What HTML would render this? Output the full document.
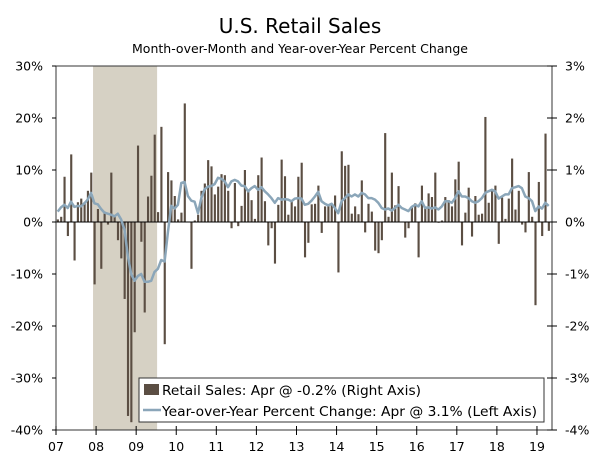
<!DOCTYPE html>
<html><head><meta charset="utf-8"><style>
body{margin:0;background:#fff;}
svg{display:block;font-family:"DejaVu Sans","Liberation Sans",sans-serif;}
</style></head><body>
<svg id="chart" width="600" height="458" viewBox="0 0 600 458" xmlns="http://www.w3.org/2000/svg">
<text x="300" y="33" text-anchor="middle" font-size="20" fill="#000">U.S. Retail Sales</text>
<text x="300" y="53" text-anchor="middle" font-size="12.5" fill="#000">Month-over-Month and Year-over-Year Percent Change</text>
<g id="plot"></g>
</svg>
<script>
const mom = [0.05,0.1,0.87,-0.27,1.3,-0.74,0.38,0.45,0.38,0.6,0.95,-1.2,
0.25,-0.9,0.2,-0.05,0.95,0.1,-0.35,-0.7,-1.48,-3.73,-3.85,-2.12,
1.47,-0.38,-1.74,0.49,0.89,1.68,0.19,1.83,-2.35,0.96,0.8,0.5,
0.05,0.18,2.28,0.01,-0.9,0.03,0.14,0.6,0.74,1.19,1.07,0.53,
0.68,0.92,0.9,0.6,-0.12,0.75,-0.08,0.31,1.0,0.6,0.42,0.06,
0.9,1.24,0.4,-0.45,-0.12,-0.8,0.33,1.2,0.88,0.14,0.4,0.3,
0.87,1.14,-0.68,-0.4,0.34,0.35,0.7,-0.21,0.3,0.33,0.35,0.51,
-0.97,1.36,1.08,1.1,0.16,0.3,0.15,0.8,-0.2,0.35,0.2,-0.55,
-0.6,-0.35,1.71,0.1,0.95,0.32,0.69,0.01,-0.3,-0.12,0.28,0.36,
-0.68,0.7,0.3,0.55,0.48,0.95,0.0,0.03,0.48,0.42,0.3,0.82,
1.16,-0.45,0.18,0.66,-0.28,0.5,0.14,0.16,2.02,0.37,0.6,0.7,
-0.42,0.47,0.06,0.45,1.22,0.24,0.6,-0.05,-0.2,0.96,0.1,-1.6,
0.77,-0.27,1.7,-0.17];
const yoy = [2.0,2.8,3.3,2.7,3.9,2.9,3.1,3.0,3.6,4.3,5.6,3.6,
3.4,2.5,1.8,1.6,1.4,1.1,1.6,0.5,-1.5,-6.5,-10,-11.3,
-10.4,-10.0,-11.5,-11.5,-11.3,-9.6,-9.0,-7.3,-7.6,-2.0,3.1,2.6,
3.3,7.5,7.7,5.0,4.1,3.9,1.7,4.6,6.3,6.8,6.9,7.3,
8.5,8.3,7.8,6.7,7.8,8.1,7.8,7.0,6.9,5.9,6.5,6.9,
6.2,6.7,5.9,5.3,4.6,3.7,4.6,4.3,4.4,4.3,4.0,4.5,
4.6,4.5,3.3,3.5,4.1,4.9,5.8,4.0,3.5,3.2,3.5,2.7,
1.7,4.0,4.6,5.3,4.9,5.3,4.9,5.6,5.3,4.6,4.6,4.3,
3.7,2.7,2.4,2.6,2.2,2.7,3.3,2.7,2.4,2.1,2.9,3.3,
3.0,4.0,2.7,2.8,2.6,2.8,2.4,3.0,4.0,4.0,3.7,4.6,
5.9,4.9,4.9,4.6,4.0,3.7,4.0,4.6,5.6,5.9,6.2,5.9,
4.5,4.9,5.3,5.3,6.5,6.7,6.9,6.5,4.9,4.6,4.0,2.1,
3.0,2.6,3.7,3.1];
const leftTicks = ["30%","20%","10%","0%","-10%","-20%","-30%","-40%"];
const rightTicks = ["3%","2%","1%","0%","-1%","-2%","-3%","-4%"];
const yearLabels = ["07","08","09","10","11","12","13","14","15","16","17","18","19"];
const recession = [11, 30]; // month indices Dec 2007 - Jun 2009

const L=56,R=552,T=66,B=430,MONTHS=148.5;
const mw=(R-L)/MONTHS;
const x=i=>L+i*mw;
const yL=v=>T+(30-v)/70*(B-T);
const yR=v=>yL(v*10);
const NS="http://www.w3.org/2000/svg";
const g=document.getElementById('plot');
function mk(t,a){const e=document.createElementNS(NS,t);for(const k in a)e.setAttribute(k,a[k]);g.appendChild(e);return e;}

const sh=mk('rect',{x:x(recession[0])+0.3,y:T,width:x(recession[1])+0.6-x(recession[0]),height:B-T,fill:'#d6d1c4'});



mom.forEach((v,i)=>{
  const y0=yR(0),y1=yR(v);
  const b=mk('rect',{x:x(i)+0.8,y:Math.min(y0,y1),width:mw-1.2,height:Math.max(0.8,Math.abs(y1-y0)),fill:'#5b4e43'});
  
  
});
const z=mk('line',{x1:L,x2:R,y1:yL(0),y2:yL(0),stroke:'#000','stroke-width':1});



const pts=yoy.map((v,i)=>(x(i)+mw/2).toFixed(1)+','+yL(v).toFixed(1)).join(' ');
const ln=mk('polyline',{points:pts,fill:'none',stroke:'#8ba6b9','stroke-width':2.5,'stroke-linejoin':'round'});



const fr=mk('rect',{x:L,y:T,width:R-L,height:B-T,fill:'none',stroke:'#333','stroke-width':1});



leftTicks.forEach((t,k)=>{
  const y=T+k*(B-T)/7;
  const tk=mk('line',{x1:L-4,x2:L,y1:y,y2:y,stroke:'#000'});
  
  
  const tx=mk('text',{x:L-13,y:y+4.5,'text-anchor':'end','font-size':12.5});
  tx.textContent=t;
  
  
});
rightTicks.forEach((t,k)=>{
  const y=T+k*(B-T)/7;
  const tk=mk('line',{x1:R-5,x2:R+5,y1:y,y2:y,stroke:'#000'});
  
  
  const tx=mk('text',{x:R+13,y:y+4.5,'text-anchor':'start','font-size':12.5});
  tx.textContent=t;
  
  
});
yearLabels.forEach((t,k)=>{
  const xx=x(k*12);
  const tk=mk('line',{x1:xx,x2:xx,y1:B-4,y2:B+5,stroke:'#000'});
  
  
  const tx=mk('text',{x:xx,y:B+21,'text-anchor':'middle','font-size':12.5});
  tx.textContent=t;
  
  
});

const lg=mk('rect',{x:139,y:378,width:405,height:44,fill:'#fff',stroke:'#333','stroke-width':1});


const s1=mk('rect',{x:144,y:384,width:15,height:11,fill:'#5b4e43'});


const s2=mk('line',{x1:143,x2:161,y1:410,y2:410,stroke:'#8ba6b9','stroke-width':2.5});


const t1=mk('text',{x:162,y:395,'font-size':13.5,textLength:259,lengthAdjust:'spacingAndGlyphs'});
t1.textContent='Retail Sales: Apr @ -0.2% (Right Axis)';


const t2=mk('text',{x:162,y:416,'font-size':13.5,textLength:375,lengthAdjust:'spacingAndGlyphs'});
t2.textContent='Year-over-Year Percent Change: Apr @ 3.1% (Left Axis)';


</script>
</body></html>
